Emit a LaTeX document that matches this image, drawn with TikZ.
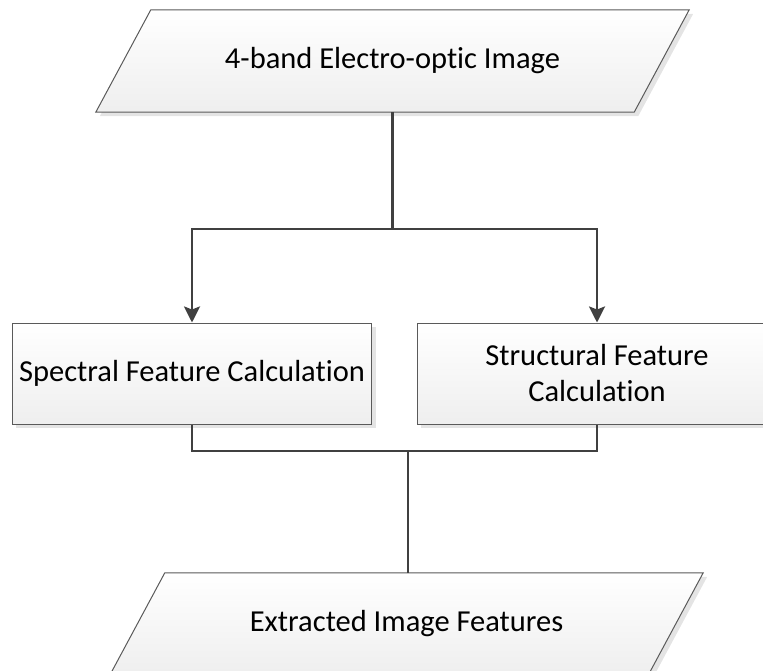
\documentclass[tikz,border=0pt]{standalone}
\usepackage{fontspec}
\setmainfont[Ligatures=NoCommon,RawFeature={-liga;-clig}]{Carlito}
\usetikzlibrary{arrows.meta,calc,shadows}
\pgfdeclarelayer{bg}
\pgfsetlayers{bg,main}
\definecolor{boxline}{HTML}{5A5A5A}
\definecolor{linecol}{HTML}{404040}
\definecolor{shadowcol}{HTML}{E4E4E4}

% slanted input/output shape drawn behind a named text node
\newcommand\ioshape[1]{%
  \begin{pgfonlayer}{bg}
    \fill[shadowcol]
      ($(#1.north west)+(31.5,4)$) -- ($(#1.north east)+(31.5,4)$) --
      ($(#1.south east)+(-23.5,4)$) -- ($(#1.south west)+(-23.5,4)$) -- cycle;
    \draw[draw=boxline, line width=1pt, top color=white, bottom color=gray!13]
      ($(#1.north west)+(27.5,0)$) -- ($(#1.north east)+(27.5,0)$) --
      ($(#1.south east)+(-27.5,0)$) -- ($(#1.south west)+(-27.5,0)$) -- cycle;
  \end{pgfonlayer}}

\begin{document}
\begin{tikzpicture}[x=1pt,y=-1pt,
  every node/.style={font=\fontsize{30.5}{36}\selectfont, text=black},
  io/.style={minimum width=538pt, minimum height=102pt, inner sep=0pt, align=center},
  procbox/.style={draw=boxline, line width=1pt, top color=white, bottom color=gray!13,
    minimum width=359.5pt, minimum height=101pt, inner sep=0pt, align=center,
    drop shadow={shadow xshift=4pt, shadow yshift=-4pt, fill=shadowcol, opacity=1}},
  flow/.style={draw=linecol, line width=2.6pt},
  merge/.style={draw=linecol, line width=1.2pt},
  tip/.style={-{Stealth[length=16pt,width=16pt,inset=3pt]}}
]
\useasboundingbox (0,0) rectangle (763,671);

% input image and output features
\node[io] (img) at (392.5,61) {4-band Electro-optic Image};
\ioshape{img}
\node[io] (feat) at (406.5,624) {Extracted Image Features};
\ioshape{feat}

% processing steps
\node[procbox] (spec) at (192,373.5) {Spectral Feature Calculation};
\node[procbox] (struct) at (597,373.5) {Structural Feature\\Calculation};

% branching to the two calculations
\coordinate (split) at (392.5,229);
\draw[flow] (img.south) -- (split);
\draw[flow,tip] (split) -| (spec.north);
\draw[flow,tip] (split) -| (struct.north);

% merging into the extracted features
\coordinate (join) at (408,451);
\draw[merge] (spec.south) |- (join) -| (struct.south);
\draw[merge] (join) -- (join |- feat.north);
\end{tikzpicture}
\end{document}
